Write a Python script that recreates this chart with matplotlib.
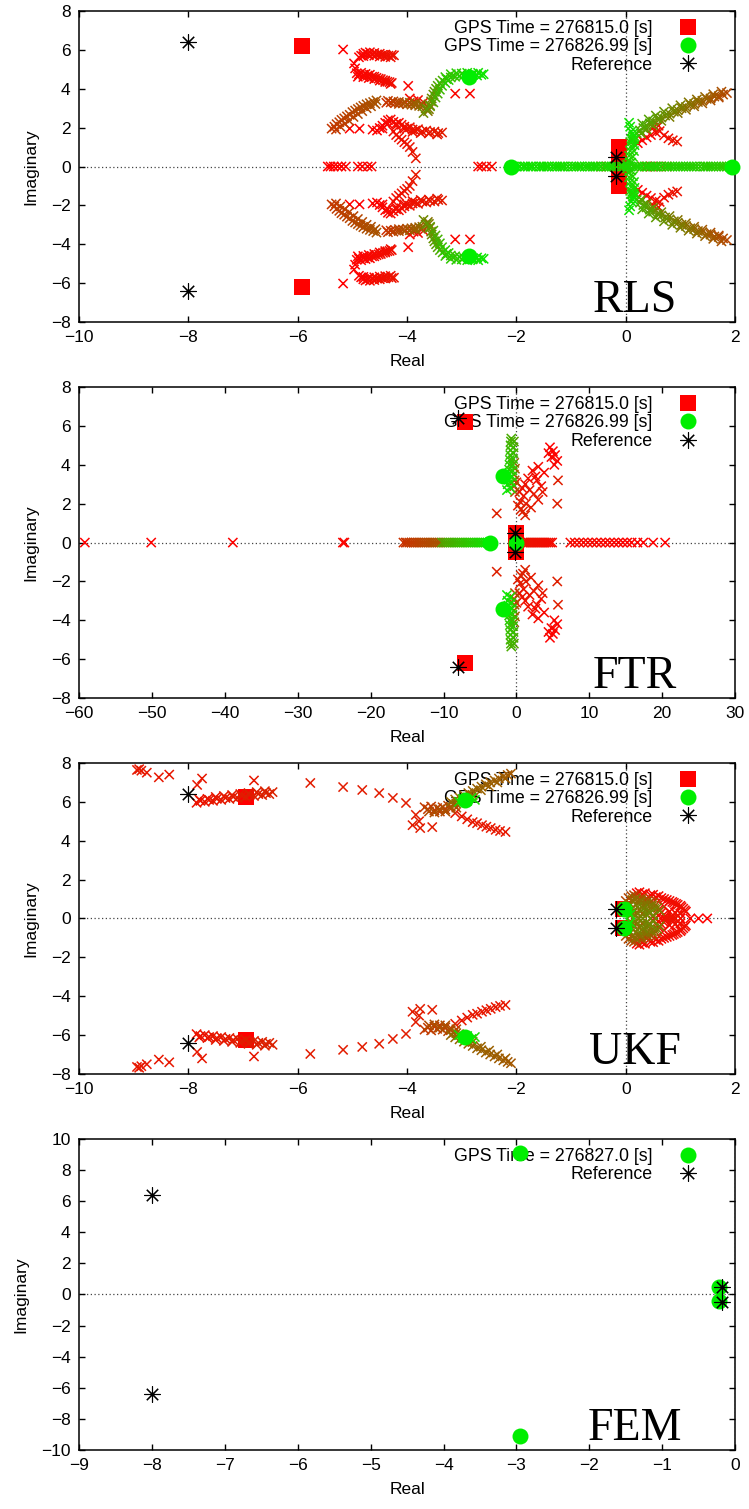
import numpy as np
import matplotlib
matplotlib.use("Agg")
import matplotlib.pyplot as plt

plt.rcParams['font.family'] = ['Liberation Sans', 'DejaVu Sans']

# Pole estimates are stored for the upper half-plane only; the complex
# conjugate partners are added when the panels are drawn.
# Each track: x list, y list and the (start, end) time fraction of the run.

# ---------------- RLS ----------------
rls_top_x = [-5.17, -4.88, -4.84, -4.8, -4.76, -4.72, -4.68, -4.64, -4.6, -4.55, -4.5, -4.45, -4.4, -4.34, -4.28, -4.24]
rls_top_y = [6.02, 5.62, 5.7, 5.8, 5.86, 5.8, 5.88, 5.78, 5.84, 5.76, 5.8, 5.74, 5.76, 5.7, 5.74, 5.72]
rls_top2_x = [-4.8, -4.7, -4.6, -4.5, -4.4, -4.3]
rls_top2_y = [5.68, 5.72, 5.7, 5.66, 5.64, 5.62]
rls_mid_x = [-4.97, -4.95, -4.92, -4.88, -4.84, -4.8, -4.76, -4.72, -4.68, -4.64, -4.6, -4.56, -4.52, -4.48, -4.44, -4.4, -4.36, -4.32, -4.28]
rls_mid_y = [5.3, 5.05, 4.8, 4.74, 4.82, 4.72, 4.76, 4.68, 4.72, 4.62, 4.62, 4.56, 4.52, 4.5, 4.44, 4.42, 4.36, 4.34, 4.3]
rls_mid2_x = [-4.9, -4.8, -4.7, -4.6, -4.5, -4.4, -4.3]
rls_mid2_y = [4.62, 4.6, 4.55, 4.5, 4.42, 4.35, 4.25]
rls_arm_x = [-5.38, -5.33, -5.29, -5.24, -5.2, -5.15, -5.1, -5.05, -5.0, -4.95, -4.9, -4.85, -4.8, -4.74, -4.68, -4.62, -4.56]
rls_arm_y = [1.95, 2.05, 2.18, 2.28, 2.4, 2.48, 2.58, 2.66, 2.8, 2.88, 2.96, 3.04, 3.12, 3.2, 3.26, 3.32, 3.4]
rls_arm2_x = [-5.3, -5.22, -5.14, -5.06, -4.98, -4.9, -4.82, -4.74, -4.66, -4.58]
rls_arm2_y = [1.9, 2.05, 2.2, 2.35, 2.55, 2.7, 2.85, 3.0, 3.1, 3.22]
rls_low_x = [-4.55, -4.5, -4.45, -4.4, -4.35, -4.3, -4.25, -4.2, -4.15, -4.1, -4.05, -4.0, -3.95, -3.9, -3.85, -3.8, -3.72, -3.65, -3.58, -3.5, -3.43, -3.36]
rls_low_y = [1.85, 1.98, 2.1, 2.25, 2.38, 2.42, 2.3, 2.2, 2.25, 2.15, 2.05, 1.95, 2.02, 1.9, 1.85, 1.92, 1.8, 1.85, 1.78, 1.8, 1.72, 1.75]
rls_low2_x = [-4.45, -4.35, -4.2, -4.05, -3.9, -3.75, -3.6, -3.45]
rls_low2_y = [1.95, 2.2, 2.1, 1.95, 1.78, 1.72, 1.7, 1.65]
rls_drop_x = [-4.25, -4.2, -4.15, -4.1, -4.05, -4.0, -3.95, -3.9, -3.84]
rls_drop_y = [1.8, 1.62, 1.5, 1.38, 1.25, 1.15, 1.0, 0.75, 0.42]
rls_single_x = [-5.05, -4.87, -4.63, -3.98, -3.12, -2.85, -3.95, -3.88, -3.8, -3.7]
rls_single_y = [1.95, 1.95, 1.9, 4.15, 3.75, 3.75, 3.5, 3.35, 3.42, 3.3]
rls_main_x = [-4.38, -4.3, -4.22, -4.15, -4.08, -4.0, -3.92, -3.85, -3.78, -3.72, -3.66, -3.62, -3.6, -3.58, -3.56,
              -3.55, -3.52, -3.5, -3.47, -3.44, -3.4, -3.35, -3.28, -3.2, -3.12, -3.04, -2.96, -2.88, -2.8, -2.72, -2.64]
rls_main_y = [3.28, 3.3, 3.26, 3.22, 3.25, 3.2, 3.18, 3.15, 3.12, 3.1, 3.0, 2.85, 2.95, 3.15, 3.35,
              3.5, 3.7, 3.85, 4.0, 4.15, 4.3, 4.42, 4.5, 4.58, 4.62, 4.65, 4.7, 4.66, 4.72, 4.68, 4.72]
rls_main2_x = [-4.35, -4.25, -4.15, -4.05, -3.95, -3.85, -3.75]
rls_main2_y = [3.38, 3.35, 3.32, 3.3, 3.28, 3.24, 3.2]
rls_main3_x = [-3.7, -3.64, -3.58, -3.52, -3.48, -3.44, -3.4, -3.36, -3.3, -3.24]
rls_main3_y = [2.75, 2.95, 3.1, 3.3, 3.55, 3.75, 3.95, 4.15, 4.3, 4.45]
rls_main4_x = [-3.3, -3.2, -3.1, -3.0, -2.9, -2.8, -2.7, -2.6]
rls_main4_y = [4.6, 4.75, 4.8, 4.78, 4.82, 4.78, 4.82, 4.75]
rls_axis_red_x = [-5.45, -5.4, -5.34, -5.27, -5.2, -5.12, -4.9, -4.82, -4.72, -4.65, -2.7, -2.64, -2.55, -2.45,
                  -0.45, -0.35, 0.3, 0.38, 0.46, 0.55, 0.65, 0.75]
rls_axis_green_x = [-2.1, -2.0, -1.88, -1.79, -1.7, -1.58, -1.5, -1.41, -1.3, -1.2, -1.12, -1.0, -0.9, -0.81,
                    -0.7, -0.6, -0.52, -0.4, -0.3, -0.22, -0.1, 0.0, 0.08, 0.2, 0.29, 0.4, 0.5, 0.58, 0.7,
                    0.8, 0.9, 1.0, 1.1, 1.2, 1.3, 1.42, 1.5, 1.6, 1.7, 1.8, 1.9, 1.95]
rls_axis_green2_x = [-2.05, -1.94, -1.84, -1.74, -1.64, -1.54, -1.45, -1.35, -1.25, -1.16, -1.06, -0.95, -0.85,
                     -0.75, -0.65, -0.56, -0.46, -0.35, -0.26, -0.16, -0.05, 0.04, 0.14, 0.24, 0.35, 0.45,
                     0.54, 0.64, 0.75, 0.85, 0.95, 1.05, 1.15, 1.25, 1.36, 1.46, 1.55, 1.65, 1.75, 1.85]
rls_right_x = [1.85, 1.78, 1.7, 1.62, 1.55, 1.48, 1.4, 1.32, 1.25, 1.18, 1.1, 1.02, 0.95, 0.88, 0.8, 0.72,
               0.65, 0.58, 0.5, 0.44, 0.38, 0.32, 0.26, 0.2, 0.15, 0.11, 0.08]
rls_right_y = [3.78, 3.7, 3.62, 3.6, 3.5, 3.48, 3.38, 3.32, 3.22, 3.18, 3.06, 3.0, 2.9, 2.82, 2.72, 2.62,
               2.52, 2.44, 2.32, 2.22, 2.1, 1.98, 1.86, 1.72, 1.58, 1.42, 1.25]
rls_right2_x = [1.75, 1.6, 1.45, 1.3, 1.15, 1.0, 0.85, 0.7, 0.55, 0.42, 0.3]
rls_right2_y = [3.85, 3.72, 3.58, 3.45, 3.3, 3.15, 3.0, 2.82, 2.62, 2.42, 2.2]
rls_right3_x = [1.7, 1.55, 1.4, 1.25, 1.1, 0.95, 0.8, 0.65, 0.5, 0.38, 0.28]
rls_right3_y = [3.55, 3.4, 3.25, 3.1, 2.92, 2.75, 2.55, 2.35, 2.12, 1.92, 1.7]
rls_right_red_x = [0.22, 0.3, 0.38, 0.46, 0.55, 0.62, 0.7, 0.78, 0.86, 0.94, 0.5, 0.6]
rls_right_red_y = [1.2, 1.35, 1.5, 1.62, 1.75, 1.82, 1.6, 1.45, 1.35, 1.28, 2.0, 2.1]
rls_stem_x = [0.02, 0.04, 0.06, 0.08, 0.1, 0.12, 0.13, 0.1, 0.08, 0.06]
rls_stem_y = [0.1, 0.3, 0.55, 0.8, 1.05, 1.3, 1.55, 1.8, 2.05, 2.25]
rls_stem2_x = [0.1, 0.13, 0.15, 0.16, 0.15, 0.13]
rls_stem2_y = [0.2, 0.5, 0.8, 1.1, 1.4, 1.7]
rls_first_x, rls_first_y = [-5.93, -0.12, -0.12], [6.2, 1.0, 0.35]
rls_last_x, rls_last_y = [-2.87, -2.1, 1.95], [4.6, 0.0, 0.0]

# ---------------- FTR ----------------
ftr_far_x = [-59.2, -50.1, -38.9, -23.8, -23.6]
ftr_axis_brown_x = [-15.5, -15.2, -15.0, -14.7, -14.4, -14.1, -13.8, -13.5, -13.2, -12.9, -12.6, -12.3,
                    -12.0, -11.7, -11.4, -11.1, -10.8, -10.5]
ftr_axis_green_x = [-10.2, -9.9, -9.6, -9.3, -9.0, -8.7, -8.4, -8.1, -7.8, -7.5, -7.2, -6.9, -6.6, -6.3,
                    -6.0, -5.7, -5.4, -5.1, -4.8, -4.5, -4.2, -3.95, -3.7]
ftr_axis_red_x = [0.9, 1.15, 1.4, 1.65, 1.9, 2.15, 2.4, 2.65, 2.9, 3.15, 3.4, 3.65, 3.9, 4.15, 4.4, 4.65, 4.9,
                  7.4, 8.0, 8.6, 9.2, 9.8, 10.4, 11.0, 11.6, 12.2, 12.8, 13.4, 14.0, 14.6, 15.2, 15.8,
                  16.6, 17.4, 18.75, 20.4]
ftr_cloud_x = [4.6, 5.0, 5.3, 5.6, 5.2, 4.8, 4.4, 3.8, 3.0, 2.6, 2.2, 2.8, 3.4, 1.6, 1.2, 0.8, 0.4, 0.0, 1.0,
               1.8, 2.4, 3.0, 3.6, 0.5, 1.3, 2.0, 0.2, 0.9, 5.7, 5.6, -2.7, 1.2, 0.6]
ftr_cloud_y = [4.9, 4.7, 4.5, 4.2, 4.0, 4.4, 4.6, 3.6, 3.9, 3.4, 3.7, 3.2, 2.9, 3.3, 3.0, 2.8, 2.6, 3.1, 2.4,
               2.7, 2.5, 2.2, 2.6, 2.1, 2.0, 1.8, 1.9, 1.6, 3.2, 2.0, 1.5, 1.4, 1.7]
ftr_col_x = [-1.3, -1.2, -1.1, -1.05, -1.0, -0.95, -0.9, -0.85, -0.82, -0.8, -0.75, -0.7]
ftr_col_y = [2.7, 3.0, 3.25, 3.5, 3.75, 4.0, 4.25, 4.5, 4.75, 5.0, 5.2, 5.35]
ftr_col2_x = [-0.8, -0.7, -0.6, -0.55, -0.5, -0.45, -0.4, -0.4, -0.35]
ftr_col2_y = [2.8, 3.1, 3.4, 3.7, 4.0, 4.3, 4.6, 4.9, 5.2]
ftr_col_brown_x = [-0.2, -0.3, -0.25, -0.35, -0.2, -0.3]
ftr_col_brown_y = [2.6, 2.9, 3.2, 3.5, 3.8, 4.1]
ftr_first_x, ftr_first_y = [-7.0, -0.1, -0.1], [6.2, 0.5, 0.0]
ftr_last_x, ftr_last_y = [-1.8, -3.6, -0.1], [3.4, 0.0, 0.0]

# ---------------- UKF ----------------
ukf_far_x = [-8.94, -8.9, -8.86, -8.76, -8.54, -8.35, -7.84, -7.75, -6.8]
ukf_far_y = [7.64, 7.68, 7.6, 7.5, 7.26, 7.4, 6.87, 7.2, 7.1]
ukf_band_x = [-7.85, -7.78, -7.7, -7.62, -7.55, -7.48, -7.4, -7.32, -7.25, -7.18, -7.1, -7.02, -6.95, -6.88,
              -6.8, -6.72, -6.65, -6.58, -6.52, -6.46]
ukf_band_y = [5.95, 6.05, 6.0, 6.1, 6.05, 6.15, 6.1, 6.2, 6.15, 6.25, 6.2, 6.3, 6.25, 6.35, 6.3, 6.4, 6.35,
              6.45, 6.4, 6.5]
ukf_band2_x = [-7.8, -7.65, -7.5, -7.35, -7.2, -7.05, -6.9, -6.75, -6.6]
ukf_band2_y = [6.12, 6.15, 6.25, 6.3, 6.35, 6.4, 6.45, 6.5, 6.55]
ukf_arc_x = [-5.77, -5.17, -4.82, -4.51, -4.26, -4.02, -3.84, -3.78, -3.76, -3.9, -3.54]
ukf_arc_y = [6.97, 6.76, 6.61, 6.45, 6.2, 5.94, 5.33, 5.0, 4.65, 4.8, 4.7]
ukf_knot_x = [-3.68, -3.62, -3.56, -3.5, -3.45, -3.4, -3.35, -3.3, -3.25, -3.2, -3.15, -3.1, -3.05,
              -3.6, -3.5, -3.4, -3.3, -3.2]
ukf_knot_y = [5.72, 5.62, 5.76, 5.56, 5.68, 5.5, 5.72, 5.6, 5.8, 5.64, 5.88, 5.7, 5.95,
              5.5, 5.45, 5.62, 5.5, 5.75]
ukf_rise_x = [-3.2, -3.12, -3.04, -2.96, -2.88, -2.8, -2.72, -2.64, -2.56, -2.48, -2.4, -2.32, -2.24, -2.16, -2.1]
ukf_rise_y = [6.0, 6.12, 6.22, 6.34, 6.45, 6.56, 6.68, 6.78, 6.9, 7.0, 7.1, 7.2, 7.3, 7.38, 7.45]
ukf_rise2_x = [-3.1, -2.95, -2.8, -2.65, -2.5, -2.35, -2.2]
ukf_rise2_y = [5.9, 6.1, 6.35, 6.6, 6.8, 7.0, 7.2]
ukf_tail_x = [-3.05, -2.98, -2.9, -2.82, -2.76]
ukf_tail_y = [6.0, 6.15, 6.05, 6.2, 6.1]
ukf_fall_x = [-3.12, -3.0, -2.9, -2.8, -2.72, -2.63, -2.55, -2.47, -2.38, -2.3, -2.2]
ukf_fall_y = [5.42, 5.25, 5.1, 4.96, 4.9, 4.8, 4.72, 4.65, 4.56, 4.5, 4.45]
ukf_fan_x = [0.0, 0.05, 0.1, 0.15, 0.2, 0.25, 0.3, 0.35, 0.4, 0.45, 0.5, 0.55, 0.05, 0.1, 0.15, 0.2, 0.25, 0.3, 0.35, 0.4,
             0.08, 0.12, 0.18, 0.22, 0.28, 0.32, 0.38, 0.42, 0.48, 0.52, 0.58, 0.62, 0.12, 0.18, 0.22, 0.28, 0.32,
             0.38, 0.45, 0.5]
ukf_fan_y = [0.9, 1.05, 1.15, 1.2, 1.1, 1.0, 1.05, 0.95, 0.9, 0.85, 0.8, 0.7, 0.6, 0.5, 0.4, 0.3, 0.45, 0.25, 0.55, 0.35,
             0.75, 0.95, 1.0, 0.8, 0.9, 0.7, 0.75, 0.6, 0.65, 0.5, 0.55, 0.4, 0.25, 0.15, 0.6, 0.1, 0.5,
             0.2, 0.3, 0.15]
ukf_core_x = [-0.02, 0.02, 0.05, 0.08]
ukf_core_y = [0.6, 0.5, 0.35, 0.2]
ukf_ring_x = [0.2, 0.3, 0.45, 0.55, 0.65, 0.75, 0.85, 0.92, 1.0, 1.05, 1.1, 1.0, 0.9, 0.8, 0.7, 0.6, 0.5, 0.6, 0.7,
              0.25, 0.35, 0.5, 0.6, 0.7, 0.8, 0.88, 0.95, 1.02, 1.08, 0.95, 0.85, 0.75, 0.65]
ukf_ring_y = [1.3, 1.25, 1.2, 1.1, 1.05, 0.95, 0.85, 0.75, 0.65, 0.5, 0.35, 0.25, 0.3, 0.35, 0.2, 0.15, 0.1, 0.45, 0.6,
              1.35, 1.3, 1.22, 1.15, 1.0, 0.9, 0.8, 0.7, 0.58, 0.42, 0.15, 0.1, 0.05, 0.3]
ukf_axis_x = [0.55, 0.7, 0.85, 1.0, 1.18, 1.33, 1.49]
ukf_first_x, ukf_first_y = [-6.95, -0.05], [6.25, 0.5]
ukf_last_x, ukf_last_y = [-2.94, -0.03], [6.1, 0.48]

# ---------------- FEM ----------------
fem_x, fem_y = [-2.95, -0.22], [9.1, 0.45]

# Reference poles
ref_x, ref_y = [-8.0, -0.18], [6.4, 0.5]

LBL_FIRST = "GPS Time = 276815.0 [s]"
LBL_LAST = "GPS Time = 276826.99 [s]"
LBL_FEM = "GPS Time = 276827.0 [s]"
LBL_REF = "Reference"

RED = np.array([1.0, 0.0, 0.0])
GREEN = np.array([0.05, 0.9, 0.0])
FS = 12.5


def with_conj(xs, ys):
    out_x, out_y = list(xs), list(ys)
    for x, y in zip(xs, ys):
        if y != 0:
            out_x.append(x)
            out_y.append(-y)
    return out_x, out_y


def track(buf, xs, ys, t0, t1):
    ts = np.linspace(t0, t1, len(xs))
    for x, y, t in zip(xs, ys, ts):
        buf.append((x, y, t))
        if y != 0:
            buf.append((x, -y, t))


def axis_track(buf, xs, t0, t1):
    track(buf, xs, [0.0] * len(xs), t0, t1)


def draw_cloud(ax, buf):
    arr = np.array(sorted(buf, key=lambda p: p[2]))
    t = arr[:, 2][:, None]
    cols = (1 - t) * RED + t * GREEN
    ax.scatter(arr[:, 0], arr[:, 1], marker='x', s=44, c=cols, linewidths=1.1,
               zorder=3, clip_on=False)


def markers(ax, fx, fy, lx, ly, first_label, last_label):
    h = []
    if fx is not None:
        x, y = with_conj(fx, fy)
        h += ax.plot(x, y, 's', ms=11, color='#ff0000', mew=0, zorder=2,
                     label=first_label, clip_on=False)
    x, y = with_conj(lx, ly)
    h += ax.plot(x, y, 'o', ms=11.5, color='#00ee00', mew=0, zorder=4,
                 label=last_label, clip_on=False)
    x, y = with_conj(ref_x, ref_y)
    h += ax.plot(x, y, ls='none', marker=(8, 2, 0), ms=11.5, color='black', mew=0.8,
                 zorder=5, label=LBL_REF, clip_on=False)
    leg = ax.legend(handles=h, loc='upper right', markerfirst=False, frameon=False,
                    fontsize=12.8, labelspacing=0.08, handletextpad=1.0, handlelength=2.0,
                    borderaxespad=0.0, borderpad=0.2, bbox_to_anchor=(0.961, 0.983))
    leg.set_zorder(1)


def style(ax, xlim, ylim, xticks, yticks, tag):
    ax.set_xlim(*xlim)
    ax.set_ylim(*ylim)
    ax.set_xticks(xticks)
    ax.set_yticks(yticks)
    ax.axhline(0, color='#444444', lw=0.9, ls=(0, (1, 2)), zorder=0.5)
    ax.axvline(0, color='#444444', lw=0.9, ls=(0, (1, 2)), zorder=0.5)
    ax.tick_params(direction='in', length=4.5, width=1.0, top=True, right=True,
                   labelsize=FS, pad=6)
    for s in ax.spines.values():
        s.set_linewidth(1.1)
    ax.set_xlabel('Real', fontsize=FS, labelpad=6)
    ax.set_ylabel('Imaginary', fontsize=FS, labelpad=9)
    ax.text(0.847, 0.032, tag, transform=ax.transAxes, ha='center', va='baseline',
            fontsize=33, family=['Liberation Serif', 'DejaVu Serif'], zorder=6)


fig = plt.figure(figsize=(7.49, 15.09), dpi=100)
L, W, H = 0.1055, 0.876, 0.2061
bottoms = [0.7866, 0.5374, 0.2883, 0.0391]
axes = [fig.add_axes([L, b, W, H]) for b in bottoms]

# RLS
ax = axes[0]
buf = []
track(buf, rls_top_x, rls_top_y, 0.0, 0.08)
track(buf, rls_top2_x, rls_top2_y, 0.0, 0.06)
track(buf, rls_mid_x, rls_mid_y, 0.0, 0.06)
track(buf, rls_mid2_x, rls_mid2_y, 0.0, 0.06)
track(buf, rls_arm_x, rls_arm_y, 0.24, 0.36)
track(buf, rls_arm2_x, rls_arm2_y, 0.25, 0.35)
track(buf, rls_low_x, rls_low_y, 0.0, 0.12)
track(buf, rls_low2_x, rls_low2_y, 0.02, 0.1)
track(buf, rls_drop_x, rls_drop_y, 0.05, 0.1)
track(buf, rls_single_x, rls_single_y, 0.0, 0.05)
track(buf, rls_main_x, rls_main_y, 0.2, 1.0)
track(buf, rls_main2_x, rls_main2_y, 0.25, 0.45)
track(buf, rls_main3_x, rls_main3_y, 0.6, 0.9)
track(buf, rls_main4_x, rls_main4_y, 0.85, 1.0)
axis_track(buf, rls_axis_red_x, 0.0, 0.05)
axis_track(buf, rls_axis_green_x, 1.0, 0.88)
axis_track(buf, rls_axis_green2_x, 0.98, 0.86)
track(buf, rls_right_x, rls_right_y, 0.3, 0.8)
track(buf, rls_right2_x, rls_right2_y, 0.35, 0.75)
track(buf, rls_right3_x, rls_right3_y, 0.3, 0.7)
track(buf, rls_right_red_x, rls_right_red_y, 0.0, 0.1)
track(buf, rls_stem_x, rls_stem_y, 0.9, 1.0)
track(buf, rls_stem2_x, rls_stem2_y, 0.9, 1.0)
draw_cloud(ax, buf)
markers(ax, rls_first_x, rls_first_y, rls_last_x, rls_last_y, LBL_FIRST, LBL_LAST)
style(ax, (-10, 2), (-8, 8), range(-10, 3, 2), range(-8, 9, 2), 'RLS')

# FTR
ax = axes[1]
buf = []
axis_track(buf, ftr_far_x, 0.0, 0.02)
axis_track(buf, ftr_axis_brown_x, 0.22, 0.36)
axis_track(buf, ftr_axis_green_x, 0.7, 1.0)
axis_track(buf, ftr_axis_red_x, 0.08, 0.0)
track(buf, ftr_cloud_x, ftr_cloud_y, 0.0, 0.15)
track(buf, ftr_col_brown_x, ftr_col_brown_y, 0.3, 0.45)
track(buf, ftr_col_x, ftr_col_y, 1.0, 0.75)
track(buf, ftr_col2_x, ftr_col2_y, 0.95, 0.7)
draw_cloud(ax, buf)
markers(ax, ftr_first_x, ftr_first_y, ftr_last_x, ftr_last_y, LBL_FIRST, LBL_LAST)
style(ax, (-60, 30), (-8, 8), range(-60, 31, 10), range(-8, 9, 2), 'FTR')

# UKF
ax = axes[2]
buf = []
track(buf, ukf_far_x, ukf_far_y, 0.1, 0.1)
track(buf, ukf_band_x, ukf_band_y, 0.08, 0.15)
track(buf, ukf_band2_x, ukf_band2_y, 0.08, 0.15)
track(buf, ukf_arc_x, ukf_arc_y, 0.12, 0.12)
track(buf, ukf_knot_x, ukf_knot_y, 0.25, 0.35)
track(buf, ukf_rise_x, ukf_rise_y, 0.45, 0.38)
track(buf, ukf_rise2_x, ukf_rise2_y, 0.45, 0.4)
track(buf, ukf_tail_x, ukf_tail_y, 0.95, 0.95)
track(buf, ukf_fall_x, ukf_fall_y, 0.1, 0.1)
track(buf, ukf_ring_x, ukf_ring_y, 0.0, 0.08)
axis_track(buf, ukf_axis_x, 0.05, 0.0)
track(buf, ukf_fan_x, ukf_fan_y, 0.3, 0.6)
track(buf, ukf_core_x, ukf_core_y, 0.8, 1.0)
draw_cloud(ax, buf)
markers(ax, ukf_first_x, ukf_first_y, ukf_last_x, ukf_last_y, LBL_FIRST, LBL_LAST)
style(ax, (-10, 2), (-8, 8), range(-10, 3, 2), range(-8, 9, 2), 'UKF')

# FEM
ax = axes[3]
markers(ax, None, None, fem_x, fem_y, None, LBL_FEM)
style(ax, (-9, 0), (-10, 10), range(-9, 1, 1), range(-10, 11, 2), 'FEM')

fig.savefig('out.png', dpi=100)
